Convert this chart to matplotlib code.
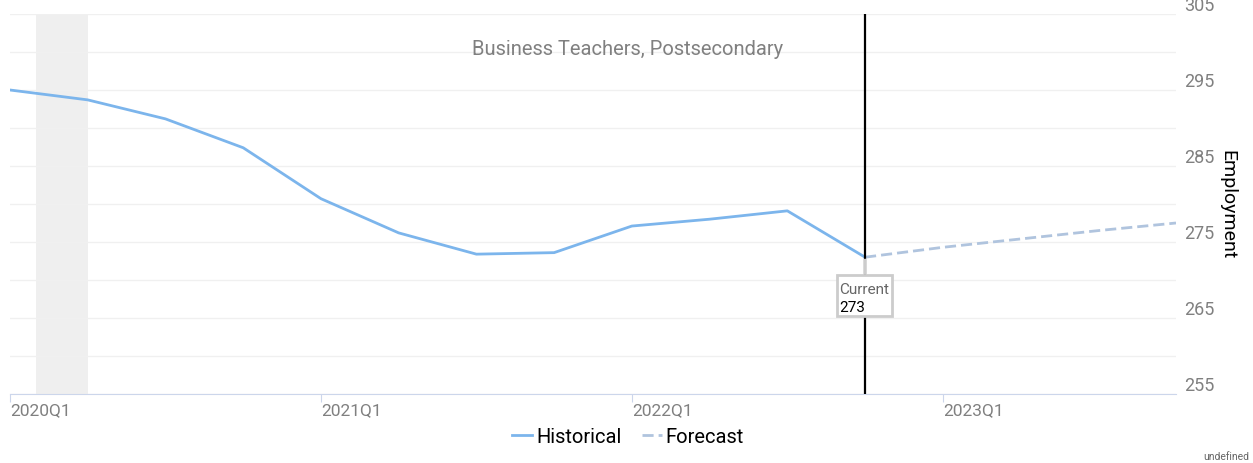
import numpy as np
import matplotlib.pyplot as plt

plt.rcParams['font.family'] = ['Roboto', 'DejaVu Sans']

# quarters counted from 2020Q1
hist_q = [0, 1, 2, 3, 4, 5, 6, 7, 8, 9, 10, 11]
hist_v = [295.0, 293.7, 291.2, 287.4, 280.7, 276.2, 273.4, 273.6, 277.1, 278.0, 279.1, 273.0]
fc_q = [11, 12, 13, 14, 15]
fc_v = [273.0, 274.3, 275.4, 276.5, 277.5]
tick_q = [0, 4, 8, 12]
tick_lbl = ['2020Q1', '2021Q1', '2022Q1', '2023Q1']
recession = (0.33, 1.0)
current_q = 11
current_v = 273

fig = plt.figure(figsize=(12.53, 4.64), dpi=100)
ax = fig.add_axes([10/1253, 1 - 395/464, 1166/1253, 380/464])

ax.set_xlim(0, 15)
ax.set_ylim(255, 305)

ax.axvspan(*recession, color='#efefef', lw=0, zorder=0)
for y in np.arange(255, 306, 5):
    ax.axhline(y, color='#f0f0f0', lw=1, zorder=1)

ax.plot(hist_q, hist_v, color='#7cb5ec', lw=2, zorder=3, label='Historical')
ax.plot(fc_q, fc_v, color='#b0c4de', lw=2, ls=(0, (4, 1.8)), zorder=3, label='Forecast')
ax.axvline(current_q, color='black', lw=1.6, zorder=4)

# current annotation
ax.annotate('', xy=(current_q, current_v), xytext=(current_q, 270.5),
            arrowprops=dict(arrowstyle='-', color='#cccccc', lw=2), zorder=5)
ax.text(current_q - 0.33, 268.8, 'Current', color='#666666', fontsize=11,
        va='center', ha='left', zorder=7)
ax.text(current_q - 0.33, 266.5, '273', color='black', fontsize=11,
        va='center', ha='left', zorder=7)
box = plt.Rectangle((current_q - 0.36, 265.3), 0.71, 5.3, facecolor='white',
                    edgecolor='#cccccc', lw=2, zorder=6)
ax.add_patch(box)

for s in ['top', 'left', 'right']:
    ax.spines[s].set_visible(False)
ax.spines['bottom'].set_color('#ccd6eb')

ax.set_xticks(tick_q)
ax.set_xticklabels(tick_lbl, ha='left', color='#808080', fontsize=12.5)
ax.tick_params(axis='x', length=6, color='#ccd6eb', pad=0, direction='out')

ax.yaxis.tick_right()
ax.set_yticks(np.arange(255, 306, 10))
ax.tick_params(axis='y', length=0, pad=6, labelsize=13, labelcolor='#808080')
for lb in ax.get_yticklabels():
    lb.set_va('bottom')

fig.text(1227/1253, 1 - 205/464, 'Employment', rotation=-90, fontsize=14,
         ha='center', va='center')

ax.text(0.53, 0.91, 'Business Teachers, Postsecondary', transform=ax.transAxes,
        ha='center', va='center', color='#808080', fontsize=14.5)

fig.legend(loc='center', bbox_to_anchor=(628/1253, 1 - 438/464), ncol=2, frameon=False,
           fontsize=14.5, handlelength=1.0, handletextpad=0.2, columnspacing=1.0)
fig.text(1249/1253, 1 - 457/464, 'undefined', ha='right', va='center',
         fontsize=7.5, color='#666666')

fig.savefig('out.png', dpi=100)
